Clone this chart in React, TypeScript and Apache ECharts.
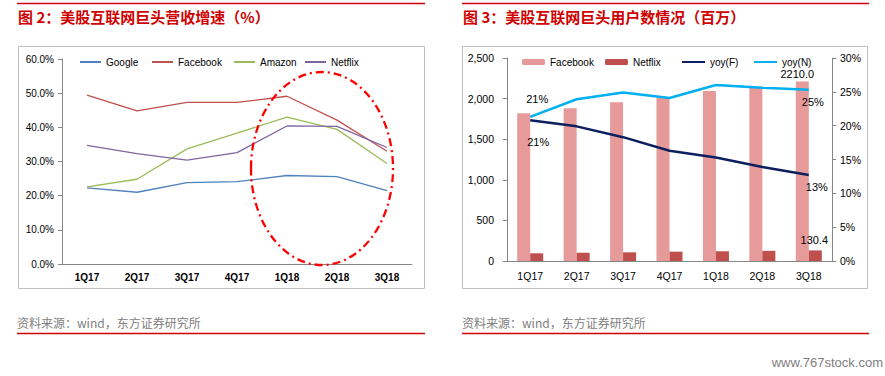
import React, { useEffect, useRef } from "react";
import * as echarts from "echarts";

const categories = ["1Q17", "2Q17", "3Q17", "4Q17", "1Q18", "2Q18", "3Q18"];

// Figure 2: revenue growth (%)
const googleGrowth = [22.3, 21.0, 23.8, 24.1, 25.9, 25.6, 21.5];
const facebookGrowth = [49.4, 44.8, 47.3, 47.3, 49.1, 42.1, 33.0];
const amazonGrowth = [22.6, 24.8, 33.7, 38.3, 43.0, 39.4, 29.4];
const netflixGrowth = [34.7, 32.3, 30.4, 32.6, 40.4, 40.3, 34.1];
const growthTicks = [0, 10, 20, 30, 40, 50, 60];

// Figure 3: users (millions) and yoy (%)
const facebookUsers = [1820, 1880, 1955, 2010, 2095, 2130, 2210];
const netflixUsers = [95, 102, 107, 115, 120, 125, 130.4];
const yoyF = [20.8, 19.9, 18.3, 16.3, 15.3, 13.9, 12.7];
const yoyN = [21.3, 23.9, 24.9, 24.1, 26.0, 25.6, 25.3];

const RED = "#D00000";
const AXIS = "#868686";
const CJK = '"Noto Sans CJK SC", sans-serif';
const LAT = '"Liberation Sans", Arial, sans-serif';

function Chart({ option, style }: { option: any; style: React.CSSProperties }) {
  const ref = useRef<HTMLDivElement>(null);
  useEffect(() => {
    if (!ref.current) return;
    const chart = echarts.init(ref.current, null, { renderer: "svg" });
    chart.setOption(option);
    return () => chart.dispose();
  }, []);
  return <div ref={ref} style={style} />;
}

function frameGraphics(x0: number, x1: number, boxX: number, boxW: number, title: string) {
  return [
    { type: "line", shape: { x1: x0, y1: 3.5, x2: x1, y2: 3.5 }, style: { stroke: RED, lineWidth: 1.5 } },
    {
      type: "text",
      x: x0 + 1,
      y: 16,
      style: { text: title, font: `bold 15px ${CJK}`, fill: RED, verticalAlign: "middle" },
    },
    {
      type: "rect",
      shape: { x: boxX, y: 46.5, width: boxW, height: 242 },
      style: { fill: "none", stroke: "#BFBFBF", lineWidth: 1 },
    },
    {
      type: "text",
      x: x0,
      y: 322,
      style: { text: "资料来源：wind，东方证券研究所", font: `12px ${CJK}`, fill: "#808080", verticalAlign: "middle" },
    },
    { type: "line", shape: { x1: x0, y1: 333.5, x2: x1, y2: 333.5 }, style: { stroke: RED, lineWidth: 1.5 } },
  ];
}

const legendText = { fontFamily: LAT, fontSize: 10, color: "#000", lineHeight: 12 };

function oneLegend(name: string, left: number, w: number, h: number, isLine: boolean) {
  return {
    data: [name],
    left,
    top: 56,
    padding: 0,
    itemWidth: w,
    itemHeight: h,
    itemGap: 0,
    selectedMode: false,
    textStyle: legendText,
    ...(isLine ? { itemStyle: { opacity: 0 } } : {}),
  };
}

const leftOption = {
  animation: false,
  graphic: [
    ...frameGraphics(17, 425, 18.5, 406, "图 2：美股互联网巨头营收增速（%）"),
    {
      type: "ellipse",
      shape: { cx: 322, cy: 168.5, rx: 71, ry: 96.5 },
      style: { fill: "none", stroke: "#FF0000", lineWidth: 2.3, lineDash: [8, 4, 2, 4] },
      z: 100,
    },
  ],
  grid: { left: 62, top: 59, width: 350, height: 205 },
  legend: [
    oneLegend("Google", 79, 21, 6, true),
    oneLegend("Facebook", 151, 21, 6, true),
    oneLegend("Amazon", 233, 21, 6, true),
    oneLegend("Netflix", 304, 21, 6, true),
  ],
  xAxis: {
    type: "category",
    data: categories,
    boundaryGap: true,
    axisLine: { lineStyle: { color: AXIS } },
    axisTick: { lineStyle: { color: AXIS }, length: 4 },
    axisLabel: { fontFamily: LAT, fontSize: 10, fontWeight: "bold", color: "#000", margin: 8 },
  },
  yAxis: {
    type: "value",
    min: growthTicks[0],
    max: growthTicks[growthTicks.length - 1],
    interval: 10,
    axisLine: { show: true, lineStyle: { color: AXIS } },
    axisTick: { show: true, lineStyle: { color: AXIS }, length: 4 },
    splitLine: { show: false },
    axisLabel: {
      fontFamily: LAT,
      fontSize: 10,
      color: "#000",
      margin: 8,
      formatter: (v: number) => v.toFixed(1) + "%",
    },
  },
  series: [
    { name: "Google", data: googleGrowth, color: "#4F81BD" },
    { name: "Facebook", data: facebookGrowth, color: "#C0504D" },
    { name: "Amazon", data: amazonGrowth, color: "#9BBB59" },
    { name: "Netflix", data: netflixGrowth, color: "#8064A2" },
  ].map((s) => ({
    type: "line",
    name: s.name,
    data: s.data,
    symbol: "none",
    itemStyle: { color: s.color },
    lineStyle: { color: s.color, width: 1.3 },
  })),
};

const labelFont = { fontFamily: LAT, fontSize: 11, color: "#000" };

function withLabels(values: number[], labels: Record<number, any>) {
  return values.map((v, i) => (labels[i] ? { value: v, label: { show: true, ...labelFont, ...labels[i] } } : v));
}

const pctFmt = (p: any) => Math.round(p.value) + "%";
const numFmt = (p: any) => Number(p.value).toFixed(1);

const rightOption = {
  animation: false,
  graphic: [
    ...frameGraphics(20, 427, 20.5, 405, "图 3：美股互联网巨头用户数情况（百万）"),
    {
      type: "text",
      x: 441,
      y: 362,
      style: { text: "www.767stock.com", font: `13px ${LAT}`, fill: "#808080", align: "right", verticalAlign: "middle" },
    },
  ],
  grid: { left: 65, top: 58, width: 325, height: 203 },
  legend: [
    oneLegend("Facebook", 80, 23, 6, false),
    oneLegend("Netflix", 163, 23, 6, false),
    oneLegend("yoy(F)", 239, 23, 6, true),
    oneLegend("yoy(N)", 311, 23, 6, true),
  ],
  xAxis: {
    type: "category",
    data: categories,
    axisLine: { lineStyle: { color: AXIS } },
    axisTick: { lineStyle: { color: AXIS }, length: 4 },
    axisLabel: { fontFamily: LAT, fontSize: 10.5, color: "#000", margin: 9 },
  },
  yAxis: [
    {
      type: "value",
      min: 0,
      max: 2500,
      interval: 500,
      axisLine: { show: true, lineStyle: { color: AXIS } },
      axisTick: { show: true, lineStyle: { color: AXIS }, length: 4 },
      splitLine: { show: false },
      axisLabel: {
        fontFamily: LAT,
        fontSize: 10.5,
        color: "#000",
        margin: 13,
        formatter: (v: number) => v.toLocaleString("en-US"),
      },
    },
    {
      type: "value",
      position: "right",
      min: 0,
      max: 30,
      interval: 5,
      axisLine: { show: true, lineStyle: { color: AXIS } },
      axisTick: { show: true, lineStyle: { color: AXIS }, length: 4 },
      splitLine: { show: false },
      axisLabel: { fontFamily: LAT, fontSize: 10.5, color: "#000", margin: 8, formatter: (v: number) => v + "%" },
    },
  ],
  series: [
    {
      type: "bar",
      name: "Facebook",
      yAxisIndex: 0,
      barWidth: 13,
      barGap: "0%",
      itemStyle: { color: "#E69A9A" },
      data: withLabels(facebookUsers, {
        6: { position: "top", distance: 2, offset: [-5, 0], formatter: numFmt },
      }),
    },
    {
      type: "bar",
      name: "Netflix",
      yAxisIndex: 0,
      barWidth: 13,
      barGap: "0%",
      itemStyle: { color: "#C0504D" },
      data: withLabels(netflixUsers, {
        6: { position: "top", distance: 5, offset: [-1, 0], formatter: numFmt },
      }),
    },
    {
      type: "line",
      name: "yoy(F)",
      yAxisIndex: 1,
      symbol: "circle",
      symbolSize: 0,
      showSymbol: true,
      z: 3,
      itemStyle: { color: "#0C1F5E" },
      lineStyle: { color: "#0C1F5E", width: 2.5 },
      data: withLabels(yoyF, {
        0: { position: "bottom", offset: [8, 11], formatter: pctFmt },
        6: { position: "bottom", offset: [8, 1], formatter: pctFmt },
      }),
    },
    {
      type: "line",
      name: "yoy(N)",
      yAxisIndex: 1,
      symbol: "circle",
      symbolSize: 0,
      showSymbol: true,
      z: 3,
      itemStyle: { color: "#00B0F0" },
      lineStyle: { color: "#00B0F0", width: 2.5 },
      data: withLabels(yoyN, {
        0: { position: "top", offset: [7, -7], formatter: pctFmt },
        6: { position: "bottom", offset: [4, 2], formatter: pctFmt },
      }),
    },
  ],
};

export default function App() {
  return (
    <div style={{ position: "fixed", left: 0, top: 0, width: 885, height: 376, background: "#fff" }}>
      <Chart option={leftOption} style={{ position: "absolute", left: 0, top: 0, width: 442, height: 376 }} />
      <Chart option={rightOption} style={{ position: "absolute", left: 442, top: 0, width: 443, height: 376 }} />
    </div>
  );
}
